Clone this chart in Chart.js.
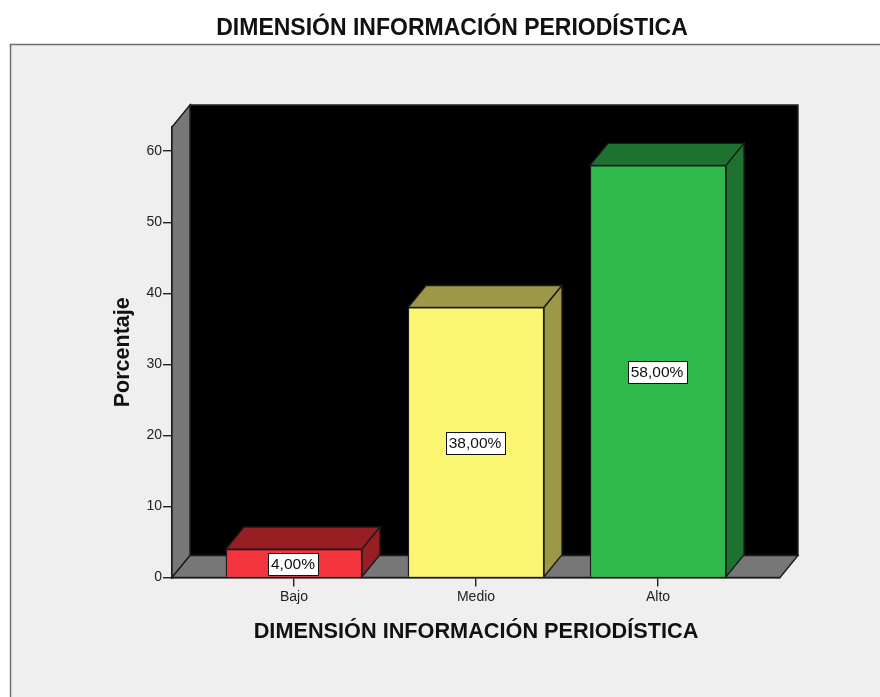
<!DOCTYPE html>
<html lang="es">
<head>
<meta charset="utf-8">
<style>html,body{margin:0;padding:0;background:#fff}canvas{display:block}</style>
<script src="https://cdn.jsdelivr.net/npm/chart.js@4"></script>
</head>
<body>
<canvas id="c" width="880" height="697"></canvas>
<script>
const categories = ["Bajo", "Medio", "Alto"];
const percentages = [4, 38, 58];
const yTicks = [0, 10, 20, 30, 40, 50, 60];
const frontColors = ["#F3343C", "#FBF671", "#2FB84C"];
const darkColors = ["#971F24", "#9C9848", "#1E722F"];
const chartTitle = "DIMENSIÓN INFORMACIÓN PERIODÍSTICA";
const xTitle = "DIMENSIÓN INFORMACIÓN PERIODÍSTICA";
const yTitle = "Porcentaje";
const DX = 18, DY = -22;
const LINE = "#1c1c1c";

function poly(ctx, pts, fill, stroke) {
  ctx.beginPath();
  pts.forEach((p, i) => i ? ctx.lineTo(p[0], p[1]) : ctx.moveTo(p[0], p[1]));
  ctx.closePath();
  ctx.fillStyle = fill;
  ctx.fill();
  ctx.lineWidth = 1.4;
  ctx.strokeStyle = stroke;
  ctx.stroke();
}

const scene3d = {
  id: "scene3d",
  afterLayout(chart) {
    chart.titleBlock.left += 7;
    chart.titleBlock.right += 7;
  },
  beforeDraw(chart) {
    const ctx = chart.ctx;
    ctx.save();
    ctx.fillStyle = "#fff";
    ctx.fillRect(0, 0, 880, 697);
    ctx.fillStyle = "#EFEFEF";
    ctx.fillRect(10, 44, 870, 653);
    ctx.strokeStyle = "#6e6e6e";
    ctx.lineWidth = 1.5;
    ctx.beginPath();
    ctx.moveTo(10.5, 697);
    ctx.lineTo(10.5, 44.5);
    ctx.lineTo(880, 44.5);
    ctx.stroke();
    ctx.restore();
  },
  beforeDatasetsDraw(chart) {
    const ctx = chart.ctx, a = chart.chartArea;
    const l = a.left, r = a.right, t = a.top, b = a.bottom;
    ctx.save();
    poly(ctx, [[l + DX, t + DY], [r + DX, t + DY], [r + DX, b + DY], [l + DX, b + DY]], "#000", "#222");
    poly(ctx, [[l, t], [l + DX, t + DY], [l + DX, b + DY], [l, b]], "#777", LINE);
    poly(ctx, [[l, b], [l + DX, b + DY], [r + DX, b + DY], [r, b]], "#777", LINE);
    const meta = chart.getDatasetMeta(0);
    meta.data.forEach((bar, i) => {
      const p = bar.getProps(["x", "y", "base", "width"], true);
      const x0 = p.x - p.width / 2, x1 = p.x + p.width / 2;
      poly(ctx, [[x0, p.y], [x0 + DX, p.y + DY], [x1 + DX, p.y + DY], [x1, p.y]], darkColors[i], LINE);
      poly(ctx, [[x1, p.y], [x1 + DX, p.y + DY], [x1 + DX, p.base + DY], [x1, p.base]], darkColors[i], LINE);
    });
    ctx.restore();
  },
  afterDatasetsDraw(chart) {
    const ctx = chart.ctx;
    const meta = chart.getDatasetMeta(0);
    ctx.save();
    ctx.font = "15.5px 'Liberation Sans', Arial, sans-serif";
    ctx.textAlign = "center";
    ctx.textBaseline = "middle";
    meta.data.forEach((bar, i) => {
      const p = bar.getProps(["x", "y", "base"], true);
      const text = percentages[i].toFixed(2).replace(".", ",") + "%";
      const w = ctx.measureText(text).width + 6;
      const h = 22;
      const cx = p.x - 1, cy = (p.y + p.base) / 2 + 1;
      const bx = Math.round(cx - w / 2) + .5, by = Math.round(cy - h / 2) + .5;
      ctx.fillStyle = "#fff";
      ctx.fillRect(bx, by, Math.round(w), h);
      ctx.strokeStyle = "#111";
      ctx.lineWidth = 1;
      ctx.strokeRect(bx, by, Math.round(w), h);
      ctx.fillStyle = "#111";
      ctx.fillText(text, cx, cy + .5);
    });
    ctx.restore();
  }
};

new Chart(document.getElementById("c"), {
  type: "bar",
  data: {
    datasets: [{
      data: percentages.map((v, i) => ({ x: i, y: v })),
      backgroundColor: frontColors,
      borderColor: LINE,
      borderWidth: 1.4,
      barThickness: 136
    }]
  },
  plugins: [scene3d],
  options: {
    responsive: false,
    animation: false,
    layout: { padding: { left: 110, right: 100, top: 0, bottom: 51.5 } },
    plugins: {
      legend: { display: false },
      tooltip: { enabled: false },
      title: {
        display: true,
        text: chartTitle,
        color: "#111",
        font: { family: "'Liberation Sans', Arial, sans-serif", size: 23, weight: "bold" },
        padding: { top: 15.2, bottom: 84.2 }
      }
    },
    scales: {
      x: {
        type: "linear",
        offset: false,
        min: -0.67,
        max: 2.67,
        afterBuildTicks(s) { s.ticks = categories.map((c, i) => ({ value: i })); },
        afterFit(s) { s.height = 68; },
        border: { display: true, color: LINE, width: 1.4 },
        grid: { offset: false, drawOnChartArea: false, color: "#222", lineWidth: 1.4, tickLength: 9 },
        ticks: {
          autoSkip: false, maxRotation: 0, padding: 2, color: "#222",
          font: { family: "'Liberation Sans', Arial, sans-serif", size: 14 },
          callback: v => categories[v]
        },
        title: {
          display: true, text: xTitle, color: "#111",
          font: { family: "'Liberation Sans', Arial, sans-serif", size: 21.7, weight: "bold" },
          padding: 0
        }
      },
      y: {
        min: 0,
        max: 63.4,
        afterBuildTicks(s) { s.ticks = yTicks.map(v => ({ value: v })); },
        afterFit(s) { s.width = 62; },
        border: { display: true, color: LINE, width: 1.4 },
        grid: { drawOnChartArea: false, color: "#222", lineWidth: 1.4, tickLength: 9 },
        ticks: {
          padding: 1, color: "#222",
          font: { family: "'Liberation Sans', Arial, sans-serif", size: 14 }
        },
        title: {
          display: true, text: yTitle, color: "#111",
          font: { family: "'Liberation Sans', Arial, sans-serif", size: 21.5, weight: "bold" },
          padding: 0
        }
      }
    }
  }
});
</script>
</body>
</html>
